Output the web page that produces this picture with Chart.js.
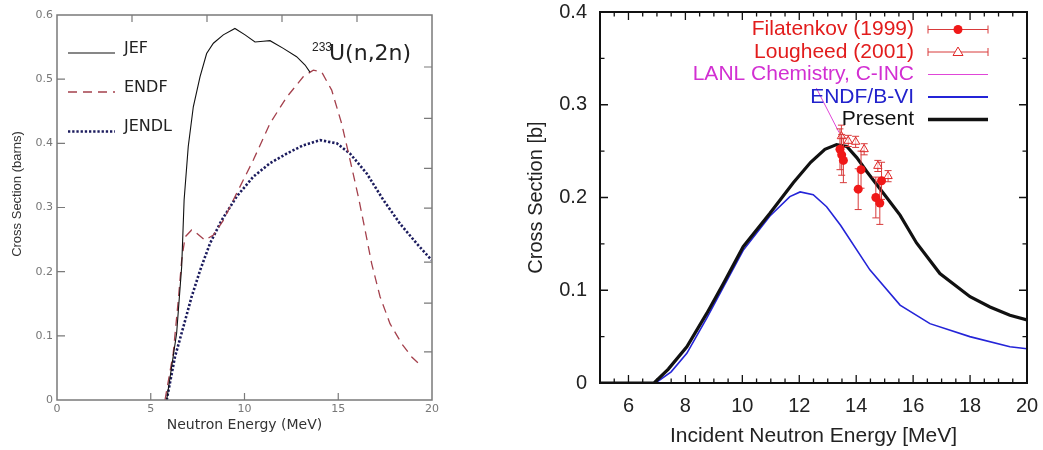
<!DOCTYPE html>
<html><head><meta charset="utf-8">
<script src="https://cdn.jsdelivr.net/npm/chart.js@4.4.0/dist/chart.umd.min.js"></script>
<style>
html,body{margin:0;padding:0;background:#fff;}
#wrap{position:relative;width:1043px;height:450px;overflow:hidden;background:#fff;}
#c1{position:absolute;left:0;top:0;}
#c2{position:absolute;left:480px;top:0;}
</style></head><body>
<div id="wrap"><canvas id="c1" width="480" height="450"></canvas><canvas id="c2" width="563" height="450"></canvas></div>
<script>
// ---------- Left chart: 233U(n,2n) evaluations ----------
const jefE   = [5.85, 6.38, 6.65, 6.78, 7.0, 7.27, 7.63, 7.98, 8.34, 8.87, 9.49, 10.03, 10.56, 11.0, 11.36, 12.07, 12.78, 13.23, 13.49];
const jefV   = [0, 0.104, 0.208, 0.312, 0.395, 0.457, 0.504, 0.540, 0.556, 0.569, 0.579, 0.569, 0.558, 0.559, 0.560, 0.548, 0.535, 0.522, 0.511];
const endfE  = [5.76, 6.2, 6.47, 6.65, 6.83, 7.18, 7.45, 7.89, 8.34, 8.87, 9.58, 10.47, 11.36, 12.25, 13.14, 13.67, 14.12, 14.65, 15.18, 15.63, 16.07, 16.43, 16.78, 17.23, 17.76, 18.38, 18.92, 19.36];
const endfV  = [0, 0.073, 0.156, 0.218, 0.254, 0.265, 0.260, 0.249, 0.257, 0.280, 0.322, 0.374, 0.431, 0.472, 0.504, 0.514, 0.511, 0.483, 0.431, 0.374, 0.317, 0.265, 0.213, 0.161, 0.119, 0.088, 0.067, 0.055];
const jendlE = [5.85, 6.29, 6.74, 7.18, 7.63, 8.16, 8.78, 9.58, 10.47, 11.36, 12.25, 13.14, 14.03, 14.92, 15.63, 16.52, 17.4, 18.29, 19.18, 19.98];
const jendlV = [0, 0.067, 0.114, 0.161, 0.202, 0.244, 0.280, 0.317, 0.348, 0.369, 0.384, 0.397, 0.405, 0.400, 0.384, 0.353, 0.312, 0.275, 0.244, 0.218];
const leftXTickLabels = [0, 5, 10, 15, 20];
const leftYTickLabels = [0, 0.1, 0.2, 0.3, 0.4, 0.5, 0.6];
const leftTopMarks    = [4, 8, 12, 16];
const leftRightMarks  = [0.075, 0.151, 0.215, 0.299, 0.361, 0.439, 0.519];

// ---------- Right chart ----------
const presentE = [5, 6.9, 7.4, 8.05, 8.75, 9.33, 10.03, 10.97, 11.79, 12.4, 12.9, 13.31, 13.67, 14.02, 14.37, 15.07, 15.54, 16.12, 16.94, 18.0, 18.7, 19.4, 20];
const presentV = [0, 0, 0.015, 0.039, 0.075, 0.107, 0.147, 0.183, 0.216, 0.238, 0.252, 0.257, 0.255, 0.243, 0.228, 0.200, 0.181, 0.151, 0.118, 0.093, 0.082, 0.073, 0.068];
const endfb6E  = [5, 6.95, 7.5, 8.05, 8.75, 9.33, 10.03, 10.97, 11.67, 12.03, 12.49, 12.96, 13.45, 14.48, 15.54, 16.59, 17.99, 19.4, 20];
const endfb6V  = [0, 0, 0.012, 0.032, 0.070, 0.103, 0.143, 0.180, 0.201, 0.206, 0.203, 0.190, 0.170, 0.122, 0.084, 0.064, 0.050, 0.039, 0.037];
const filE   = [13.43, 13.49, 13.55, 14.07, 14.17, 14.69, 14.83, 14.89];
const filV   = [0.252, 0.246, 0.240, 0.209, 0.230, 0.200, 0.194, 0.218];
const filErr = [0.022, 0.022, 0.024, 0.022, 0.020, 0.022, 0.023, 0.020];
const louE   = [13.48, 13.72, 13.98, 14.28, 14.76, 15.12];
const louV   = [0.266, 0.261, 0.260, 0.252, 0.234, 0.223];
const louErr = [0.012, 0.006, 0.006, 0.006, 0.006, 0.006];
const lanlE  = [12.6, 13.4];
const lanlV  = [0.318, 0.270];
const rightXTickLabels = [6, 8, 10, 12, 14, 16, 18, 20];
const rightYTickLabels = [0, 0.1, 0.2, 0.3, 0.4];

const pts = (xs, ys) => xs.map((x, i) => ({x, y: ys[i]}));
const fmt = v => v === 0 ? '0' : String(+v.toFixed(2));
const fixBox = (w, h) => s => {
  if (w !== null) s.width = w;
  if (h !== null) s.height = h;
  s.paddingTop = 0; s.paddingBottom = 0; s.paddingLeft = 0; s.paddingRight = 0;
};

// inward ticks + frame drawn from the chart's scales
function framePlugin(spec) {
  return {
    id: 'frame',
    afterDraw(chart) {
      const {ctx, chartArea: a} = chart;
      const x = chart.scales.x, y = chart.scales.y;
      ctx.save();
      ctx.strokeStyle = spec.color;
      ctx.lineWidth = spec.tickWidth;
      ctx.beginPath();
      spec.bottom.forEach(([v, l]) => { const p = x.getPixelForValue(v); ctx.moveTo(p, a.bottom); ctx.lineTo(p, a.bottom - l); });
      spec.top.forEach(([v, l]) => { const p = x.getPixelForValue(v); ctx.moveTo(p, a.top); ctx.lineTo(p, a.top + l); });
      spec.left.forEach(([v, l]) => { const p = y.getPixelForValue(v); ctx.moveTo(a.left, p); ctx.lineTo(a.left + l, p); });
      spec.right.forEach(([v, l]) => { const p = y.getPixelForValue(v); ctx.moveTo(a.right, p); ctx.lineTo(a.right - l, p); });
      ctx.stroke();
      ctx.lineWidth = spec.width;
      ctx.strokeRect(a.left, a.top, a.right - a.left, a.bottom - a.top);
      ctx.restore();
    }
  };
}

const errPlugin = {
  id: 'errbars',
  beforeDatasetDraw(chart, args) {
    const ds = chart.data.datasets[args.index];
    if (!ds.errors) return;
    const {ctx} = chart, x = chart.scales.x, y = chart.scales.y;
    ctx.save();
    ctx.strokeStyle = ds.errColor; ctx.lineWidth = 1;
    ds.data.forEach((p, i) => {
      const px = x.getPixelForValue(p.x);
      const y1 = y.getPixelForValue(p.y - ds.errors[i]);
      const y2 = y.getPixelForValue(p.y + ds.errors[i]);
      ctx.beginPath();
      ctx.moveTo(px, y1); ctx.lineTo(px, y2);
      ctx.moveTo(px - 3.5, y1); ctx.lineTo(px + 3.5, y1);
      ctx.moveTo(px - 3.5, y2); ctx.lineTo(px + 3.5, y2);
      ctx.stroke();
    });
    ctx.restore();
  }
};

// ---- left legend & labels ----
const leftLegend = {
  id: 'leftLegend',
  afterDraw(chart) {
    const ctx = chart.ctx;
    ctx.save();
    const rows = [
      {t: 'JEF',   y: 49,  ly: 53,  c: '#111',    w: 1.1, d: []},
      {t: 'ENDF',  y: 88,  ly: 92,  c: '#a4404c', w: 1.3, d: [9, 6]},
      {t: 'JENDL', y: 127, ly: 131.5, c: '#1c1c5e', w: 2.6, d: [2.3, 1.9]}
    ];
    rows.forEach(r => {
      ctx.strokeStyle = r.c; ctx.lineWidth = r.w; ctx.setLineDash(r.d);
      ctx.beginPath(); ctx.moveTo(68, r.ly); ctx.lineTo(115, r.ly); ctx.stroke();
      ctx.setLineDash([]);
      ctx.fillStyle = '#222'; ctx.font = '16px "DejaVu Sans"';
      ctx.textAlign = 'left'; ctx.textBaseline = 'middle';
      ctx.fillText(r.t, 124, r.y);
    });
    ctx.fillStyle = '#222';
    ctx.font = '12px "Liberation Sans"'; ctx.textBaseline = 'middle';
    ctx.fillText('233', 312, 48);
    ctx.font = '22px "DejaVu Sans"';
    ctx.fillText('U(n,2n)', 329, 54);
    // y-axis title
    ctx.translate(17, 194);
    ctx.rotate(-Math.PI / 2);
    ctx.font = '13px "Liberation Sans"'; ctx.fillStyle = '#333';
    ctx.textAlign = 'center'; ctx.textBaseline = 'middle';
    ctx.fillText('Cross Section (barns)', 0, 0);
    ctx.restore();
  }
};

new Chart(document.getElementById('c1'), {
  type: 'scatter',
  data: {
    datasets: [
      {label: 'JEF', data: pts(jefE, jefV), showLine: true, borderColor: '#111', borderWidth: 1.1, pointRadius: 0, tension: 0},
      {label: 'ENDF', data: pts(endfE, endfV), showLine: true, borderColor: '#a4404c', borderWidth: 1.3, borderDash: [9, 6], pointRadius: 0, tension: 0},
      {label: 'JENDL', data: pts(jendlE, jendlV), showLine: true, borderColor: '#1c1c5e', borderWidth: 2.6, borderDash: [2.3, 1.9], pointRadius: 0, tension: 0}
    ]
  },
  options: {
    responsive: false, animation: false, devicePixelRatio: 1,
    layout: {padding: {top: 15, right: 48, left: 0, bottom: 0}},
    plugins: {legend: {display: false}, tooltip: {enabled: false}},
    scales: {
      x: {
        type: 'linear', min: 0, max: 20,
        afterFit: fixBox(null, 50),
        afterBuildTicks: s => { s.ticks = leftXTickLabels.map(v => ({value: v})); },
        grid: {display: false, drawTicks: false}, border: {display: false},
        ticks: {font: {family: 'DejaVu Sans', size: 11}, color: '#777', padding: 3, maxRotation: 0, callback: fmt},
        title: {display: true, text: 'Neutron Energy (MeV)', font: {family: 'DejaVu Sans', size: 14}, color: '#333', padding: {top: 0, bottom: 16.6}}
      },
      y: {
        type: 'linear', min: 0, max: 0.6,
        afterFit: fixBox(57, null),
        afterBuildTicks: s => { s.ticks = leftYTickLabels.map(v => ({value: v})); },
        grid: {display: false, drawTicks: false}, border: {display: false},
        ticks: {font: {family: 'DejaVu Sans', size: 11}, color: '#777', padding: 4, callback: fmt},
        title: {display: false}
      }
    }
  },
  plugins: [framePlugin({
    color: '#7a7a7a', width: 1.5, tickWidth: 1.2,
    bottom: [5, 10, 15].map(v => [v, 7]),
    top: leftTopMarks.map(v => [v, 7]),
    left: [0.1, 0.2, 0.3, 0.4, 0.5].map(v => [v, 8]),
    right: leftRightMarks.map(v => [v, 8])
  }), leftLegend]
});

// ---- right chart ----
const xMinor = [], yMinor = [];
for (let v = 5.5; v < 20; v += 0.5) if (Math.abs(v / 2 - Math.round(v / 2)) > 1e-6) xMinor.push(v);
for (let k = 1; k < 8; k += 2) yMinor.push(k * 0.05);

const rightLegend = {
  id: 'rightLegend',
  afterDraw(chart) {
    const ctx = chart.ctx;
    ctx.save();
    const tx = 434, x0 = 448, x1 = 508, xm = 478;
    const rows = [
      {t: 'Filatenkov (1999)', c: '#e21c1c', y: 29.5, kind: 'fil'},
      {t: 'Lougheed (2001)', c: '#e21c1c', y: 52, kind: 'lou'},
      {t: 'LANL Chemistry, C-INC', c: '#d22fd2', y: 74.5, kind: 'line', lc: '#e046d8', lw: 1},
      {t: 'ENDF/B-VI', c: '#2222cc', y: 97, kind: 'line', lc: '#2424d8', lw: 1.8},
      {t: 'Present', c: '#111', y: 119.5, kind: 'line', lc: '#111', lw: 3.5}
    ];
    ctx.font = '21px "Liberation Sans"'; ctx.textAlign = 'right'; ctx.textBaseline = 'middle';
    rows.forEach(r => {
      ctx.fillStyle = r.c; ctx.fillText(r.t, tx, r.y);
      if (r.kind === 'line') {
        ctx.strokeStyle = r.lc; ctx.lineWidth = r.lw;
        ctx.beginPath(); ctx.moveTo(x0, r.y); ctx.lineTo(x1, r.y); ctx.stroke();
      } else {
        ctx.strokeStyle = '#d83a3a'; ctx.lineWidth = 1;
        ctx.beginPath(); ctx.moveTo(x0, r.y); ctx.lineTo(x1, r.y);
        ctx.moveTo(x0, r.y - 4); ctx.lineTo(x0, r.y + 4);
        ctx.moveTo(x1, r.y - 4); ctx.lineTo(x1, r.y + 4); ctx.stroke();
        if (r.kind === 'fil') {
          ctx.fillStyle = '#f01818'; ctx.beginPath(); ctx.arc(xm, r.y, 4.5, 0, Math.PI * 2); ctx.fill();
        } else {
          ctx.fillStyle = '#fff'; ctx.strokeStyle = '#e02828'; ctx.lineWidth = 1;
          ctx.beginPath(); ctx.moveTo(xm, r.y - 5); ctx.lineTo(xm + 5, r.y + 3.5); ctx.lineTo(xm - 5, r.y + 3.5); ctx.closePath(); ctx.fill(); ctx.stroke();
        }
      }
    });
    ctx.restore();
  }
};

new Chart(document.getElementById('c2'), {
  type: 'scatter',
  data: {
    datasets: [
      {label: 'Filatenkov (1999)', data: pts(filE, filV), errors: filErr, errColor: '#d83a3a', pointStyle: 'circle', pointRadius: 4.5, backgroundColor: '#f01818', borderColor: '#f01818', borderWidth: 0},
      {label: 'Lougheed (2001)', data: pts(louE, louV), errors: louErr, errColor: '#d83a3a', pointStyle: 'triangle', pointRadius: 4.8, backgroundColor: 'rgba(255,255,255,0.6)', borderColor: '#e02828', borderWidth: 1},
      {label: 'LANL Chemistry, C-INC', data: pts(lanlE, lanlV), showLine: true, borderColor: '#e046d8', borderWidth: 1, pointRadius: 0},
      {label: 'Present', data: pts(presentE, presentV), showLine: true, borderColor: '#111', borderWidth: 3.2, pointRadius: 0, tension: 0},
      {label: 'ENDF/B-VI', data: pts(endfb6E, endfb6V), showLine: true, borderColor: '#2424d8', borderWidth: 1.6, pointRadius: 0, tension: 0}
    ]
  },
  options: {
    responsive: false, animation: false, devicePixelRatio: 1,
    layout: {padding: {top: 12, right: 16, left: 0, bottom: 0}},
    plugins: {legend: {display: false}, tooltip: {enabled: false}},
    scales: {
      x: {
        type: 'linear', min: 5, max: 20,
        afterFit: fixBox(null, 67),
        afterBuildTicks: s => { s.ticks = rightXTickLabels.map(v => ({value: v})); },
        grid: {display: false, drawTicks: false}, border: {display: false},
        ticks: {font: {family: 'Liberation Sans', size: 20}, color: '#222', padding: 11, maxRotation: 0},
        title: {display: true, text: 'Incident Neutron Energy [MeV]', font: {family: 'Liberation Sans', size: 21}, color: '#222', padding: {top: 0, bottom: 1}}
      },
      y: {
        type: 'linear', min: 0, max: 0.4,
        afterFit: fixBox(120, null),
        afterBuildTicks: s => { s.ticks = rightYTickLabels.map(v => ({value: v})); },
        grid: {display: false, drawTicks: false}, border: {display: false},
        ticks: {font: {family: 'Liberation Sans', size: 20}, color: '#222', padding: 13, callback: fmt},
        title: {display: true, text: 'Cross Section [b]', font: {family: 'Liberation Sans', size: 20}, color: '#222', padding: {top: 44, bottom: 0}}
      }
    }
  },
  plugins: [errPlugin, framePlugin({
    color: '#111', width: 2, tickWidth: 1.3,
    bottom: rightXTickLabels.slice(0, -1).map(v => [v, 8]).concat(xMinor.map(v => [v, 4.5])),
    top: rightXTickLabels.slice(0, -1).map(v => [v, 8]).concat(xMinor.map(v => [v, 4.5])),
    left: [0.1, 0.2, 0.3].map(v => [v, 8]).concat(yMinor.map(v => [v, 4.5])),
    right: [0.1, 0.2, 0.3].map(v => [v, 8]).concat(yMinor.map(v => [v, 4.5]))
  }), rightLegend]
});
</script>
</body></html>
